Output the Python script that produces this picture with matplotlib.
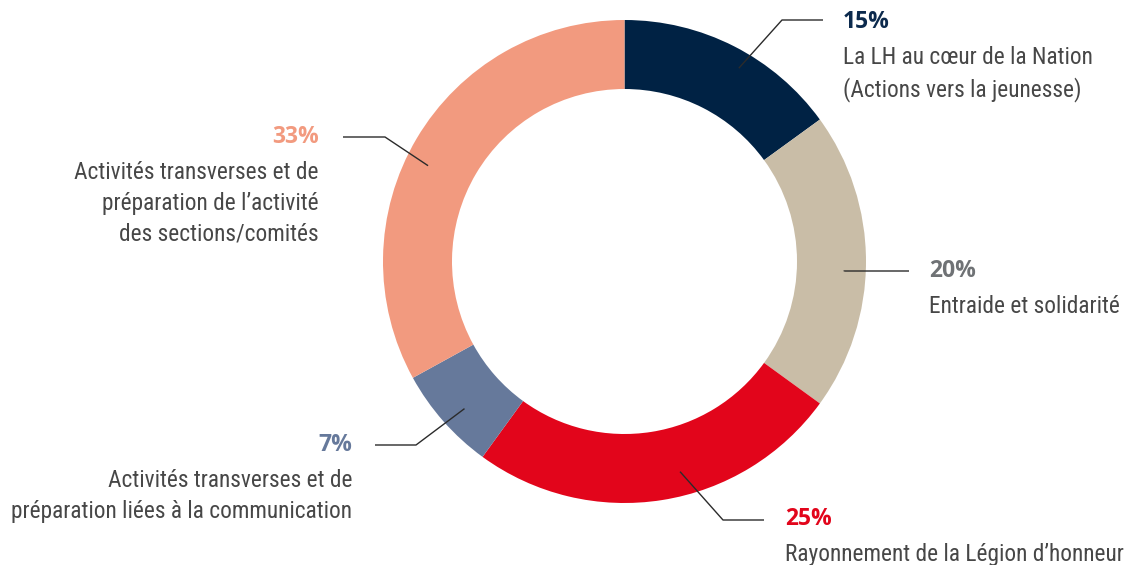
import matplotlib
matplotlib.use("Agg")
import matplotlib.pyplot as plt
import numpy as np

# data
values = [15, 20, 25, 7, 33]
pct_labels = ["15%", "20%", "25%", "7%", "33%"]
names = [
    "La LH au cœur de la Nation\n(Actions vers la jeunesse)",
    "Entraide et solidarité",
    "Rayonnement de la Légion d\u2019honneur",
    "Activités transverses et de\npréparation liées à la communication",
    "Activités transverses et de\npréparation de l\u2019activité\ndes sections/comités",
]
colors = ["#002244", "#c9bda7", "#e2051b", "#66799b", "#f29a7f"]
pct_colors = ["#0c2a4d", "#6f7275", "#e2051b", "#66799b", "#f29a7f"]

W, H = 1132, 565
cx, cy = 624.5, H - 261.5
R, ring = 241.5, 69

label_font = ["Roboto Condensed", "Liberation Sans Narrow", "Roboto", "DejaVu Sans"]
pct_font = ["Open Sans", "Roboto", "DejaVu Sans"]

fig = plt.figure(figsize=(W / 100, H / 100), dpi=100)
ax = fig.add_axes([0, 0, 1, 1])

wedges, _ = ax.pie(values, colors=colors, startangle=90, counterclock=False,
                   center=(cx, cy), radius=R,
                   wedgeprops=dict(width=ring, linewidth=0))
ax.set_xlim(0, W)
ax.set_ylim(0, H)
ax.set_aspect("equal")
ax.axis("off")

# leader layout: (angle shift deg, radius factor, elbow px, line end px, text x px, text y px, align)
layout = [
    (-3.6, 0.93, (782, 20), (823, 20), 843, 22, "left"),
    (-2.5, 0.91, (844, 271), (909, 271), 929, 271, "left"),
    (5.8, 0.90, (723, 520), (764, 520), 785, 519, "left"),
    (1.2, 0.90, (416, 445), (375, 445), 352, 445, "right"),
    (4.6, 0.905, (385, 137), (343, 137), 319, 137, "right"),
]

for w, pct, name, pc, (da, rf, elbow, end, tx, ty, ha) in zip(
        wedges, pct_labels, names, pct_colors, layout):
    mid = np.deg2rad((w.theta1 + w.theta2) / 2 + da)
    sx = cx + rf * R * np.cos(mid)
    sy = cy + rf * R * np.sin(mid)
    ax.plot([sx, elbow[0], end[0]], [sy, H - elbow[1], H - end[1]],
            color="#2b2b2b", lw=1.0, solid_capstyle="butt")
    ax.text(tx, H - ty, pct, ha=ha, va="center", fontsize=16.5,
            fontweight="bold", color=pc, family=pct_font)
    ax.text(tx, H - ty - 24, name, ha=ha, va="top", fontsize=16.8,
            color="#474747", family=label_font, linespacing=1.42,
            multialignment=ha)

fig.savefig("out.png", dpi=100)
